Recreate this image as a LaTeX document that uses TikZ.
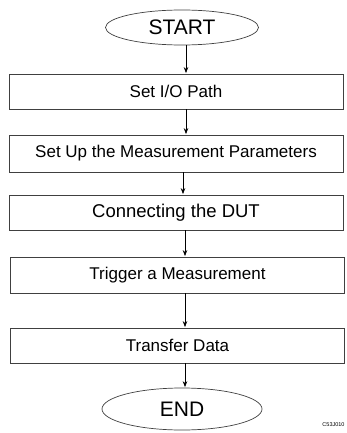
\documentclass[tikz,border=0pt]{standalone}
\usepackage{fontspec}
\setmainfont{Liberation Sans}
\usetikzlibrary{arrows.meta, shapes.geometric}

\tikzset{
    stepbox/.style={draw=black!75, line width=0.8pt, rectangle, minimum width=334pt, minimum height=35pt, inner sep=0pt, font=\fontsize{17}{20}\selectfont},
    terminal/.style={draw=black!75, line width=0.7pt, ellipse, inner sep=0pt, font=\fontsize{21}{24}\selectfont},
    flow/.style={-{Stealth[length=6pt, width=4.5pt]}, line width=0.7pt, shorten >=0.5pt}
}

\begin{document}
\begin{tikzpicture}[x=1pt, y=-1pt]
    \useasboundingbox (0,0) rectangle (346,433);
    \coordinate (axis) at (186,0);
    \node [terminal, minimum width=153pt, minimum height=35pt] (start) at (182,27.5) {START};
    \node [stepbox] (iopath) at (176,91.5) {Set I/O Path};
    \node [stepbox, minimum height=37pt] (params) at (176,153.5) {Set Up the Measurement Parameters};
    \node [stepbox, font=\fontsize{18.5}{22}\selectfont] (dut) at (176,212.5) {Connecting the DUT};
    \node [stepbox, minimum height=36pt] (trigger) at (177.5,275) {Trigger a Measurement};
    \node [stepbox] (transfer) at (177.5,345.5) {Transfer Data};
    \node [terminal, minimum width=160pt, minimum height=42pt] (stop) at (182,409) {END};
    \node [font=\fontsize{5.5}{6}\selectfont, inner sep=0pt] (figid) at (333.5,424.5) {C53J010};

    \draw [flow] (start.south -| axis) -- (iopath.north -| axis);
    \draw [flow] (iopath.south -| axis) -- (params.north -| axis);
    \draw [flow] ([xshift=-3pt]params.south -| axis) -- ([xshift=-3pt]dut.north -| axis);
    \draw [flow] ([xshift=-1pt]dut.south -| axis) -- ([xshift=-1pt]trigger.north -| axis);
    \draw [flow] ([xshift=-1pt]trigger.south -| axis) -- ([xshift=-1pt]transfer.north -| axis);
    \draw [flow] ([xshift=-1pt]transfer.south -| axis) -- ([xshift=-1pt]stop.north -| axis);
\end{tikzpicture}
\end{document}
